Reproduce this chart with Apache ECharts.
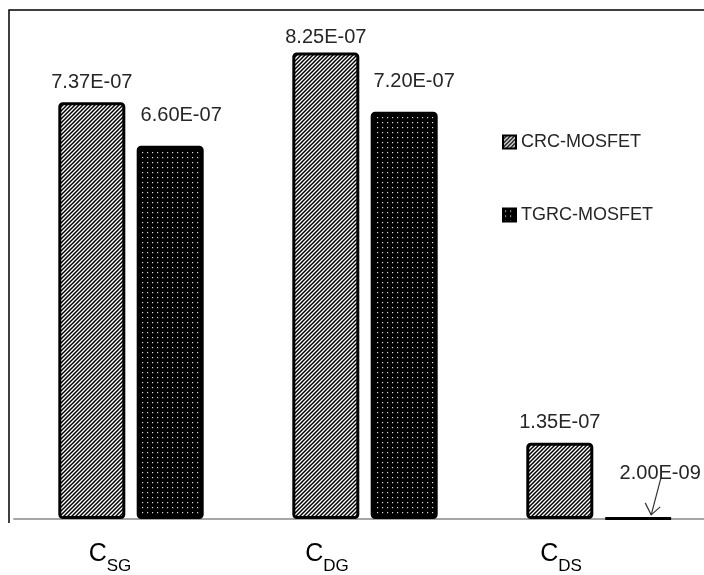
<!DOCTYPE html>
<html>
<head>
<meta charset="utf-8">
<script src="https://cdn.jsdelivr.net/npm/echarts@6/dist/echarts.min.js"></script>
<style>
  html, body { margin: 0; padding: 0; background: #fff; overflow: hidden; }
  #chart { width: 730px; height: 575px; }
</style>
</head>
<body>
<div id="chart"></div>
<script>
// Capacitance components and the two device structures
const subscripts = ['SG', 'DG', 'DS'];
const seriesNames = ['CRC-MOSFET', 'TGRC-MOSFET'];
const crcValues = [7.37e-7, 8.25e-7, 1.35e-7];
const tgrcValues = [6.60e-7, 7.20e-7, 2.00e-9];

// Excel-style scientific text, e.g. 7.37E-07
function sci(v) {
  const [m, e] = v.toExponential(2).split('e');
  const n = parseInt(e, 10);
  return m + 'E' + (n < 0 ? '-' : '+') + String(Math.abs(n)).padStart(2, '0');
}

// Fill patterns: diagonal hatching and dotted black
function hatchPattern() {
  const c = document.createElement('canvas');
  c.width = 4; c.height = 4;
  const g = c.getContext('2d');
  g.fillStyle = '#fff'; g.fillRect(0, 0, 4, 4);
  g.strokeStyle = '#000'; g.lineWidth = 1.5;
  g.beginPath();
  g.moveTo(-1, 5); g.lineTo(5, -1);
  g.moveTo(-3, 3); g.lineTo(3, -3);
  g.moveTo(1, 7); g.lineTo(7, 1);
  g.stroke();
  return c;
}
function dotPattern() {
  const c = document.createElement('canvas');
  c.width = 5; c.height = 5;
  const g = c.getContext('2d');
  g.fillStyle = '#000'; g.fillRect(0, 0, 5, 5);
  g.fillStyle = '#d8d8d8'; g.fillRect(2, 2, 1.2, 1.2);
  return c;
}

const BAR_W = 67;
const GAP = 0.17;
const labelFont = { fontFamily: 'Liberation Sans', fontSize: 20, color: '#262626' };

// label placement per bar: [distance above bar, horizontal shift]
const crcLabelPos = [[10, 0], [5, 0], [10, 0]];
const tgrcLabelPos = [[20, 11], [20, 10], [33, 22]];
// category label shifts (left of category centre)
const catShift = [21, 38, 38];

const chart = echarts.init(document.getElementById('chart'));

function barData(values, pos) {
  return values.map((v, i) => ({
    value: v,
    label: { distance: pos[i][0], offset: [pos[i][1], 0] }
  }));
}

chart.setOption({
  animation: false,
  backgroundColor: '#fff',
  grid: { left: 14, top: 10, width: 702, bottom: 52, containLabel: false },
  legend: {
    orient: 'vertical',
    left: 497,
    top: 128,
    itemWidth: 13,
    itemHeight: 13,
    itemGap: 55,
    icon: 'rect',
    textStyle: { fontFamily: 'Liberation Sans', fontSize: 18, color: '#262626' },
    data: seriesNames
  },
  xAxis: {
    type: 'category',
    data: subscripts.map((s, i) => ({
      value: s,
      textStyle: { padding: [0, catShift[i] * 2, 0, 0] }
    })),
    axisLine: { show: true, lineStyle: { color: '#a6a6a6', width: 2 } },
    axisTick: { show: false },
    axisLabel: {
      margin: 18,
      formatter: s => '{c|C}{s|' + s + '}',
      rich: {
        c: { fontFamily: 'Liberation Sans', fontSize: 25, color: '#000', lineHeight: 30, verticalAlign: 'bottom' },
        s: { fontFamily: 'Liberation Sans', fontSize: 17, color: '#000', lineHeight: 30, verticalAlign: 'bottom', padding: [0, 0, -8, 0] }
      }
    }
  },
  yAxis: {
    type: 'value',
    min: 0,
    max: 9e-7,
    show: false,
    splitLine: { show: false }
  },
  series: [
    {
      name: seriesNames[0],
      type: 'bar',
      barWidth: BAR_W,
      barGap: (GAP * 100) + '%',
      data: barData(crcValues, crcLabelPos),
      itemStyle: {
        color: { image: hatchPattern(), repeat: 'repeat' },
        borderColor: '#000',
        borderWidth: 3,
        borderRadius: 3
      },
      label: { show: true, position: 'top', formatter: p => sci(p.value), ...labelFont }
    },
    {
      name: seriesNames[1],
      type: 'bar',
      barWidth: BAR_W,
      data: barData(tgrcValues, tgrcLabelPos),
      itemStyle: {
        color: { image: dotPattern(), repeat: 'repeat' },
        borderColor: '#000',
        borderWidth: 3,
        borderRadius: 3
      },
      label: { show: true, position: 'top', formatter: p => sci(p.value), ...labelFont }
    }
  ]
});

// Plot-area frame (top and left edges) plus the arrow pointing at the thin bar
const barShift = (BAR_W * (1 + GAP)) / 2;
const tip = chart.convertToPixel({ xAxisIndex: 0, yAxisIndex: 0 }, [2, tgrcValues[2]]);
const tipX = tip[0] + barShift + 13;
const tipY = tip[1] - 3;
const tailX = tipX + 10;
const tailY = tipY - 38;
chart.setOption({
  graphic: [
    {
      type: 'polyline',
      shape: { points: [[9, 523], [9, 10], [730, 10]] },
      style: { stroke: '#000', lineWidth: 1.5, fill: null }
    },
    {
      type: 'line',
      shape: { x1: tailX, y1: tailY, x2: tipX, y2: tipY },
      style: { stroke: '#333', lineWidth: 1.2 }
    },
    {
      type: 'polyline',
      shape: { points: [[tipX - 6, tipY - 12], [tipX, tipY], [tipX + 9, tipY - 8]] },
      style: { stroke: '#333', lineWidth: 1.2, fill: null }
    }
  ]
});
</script>
</body>
</html>
